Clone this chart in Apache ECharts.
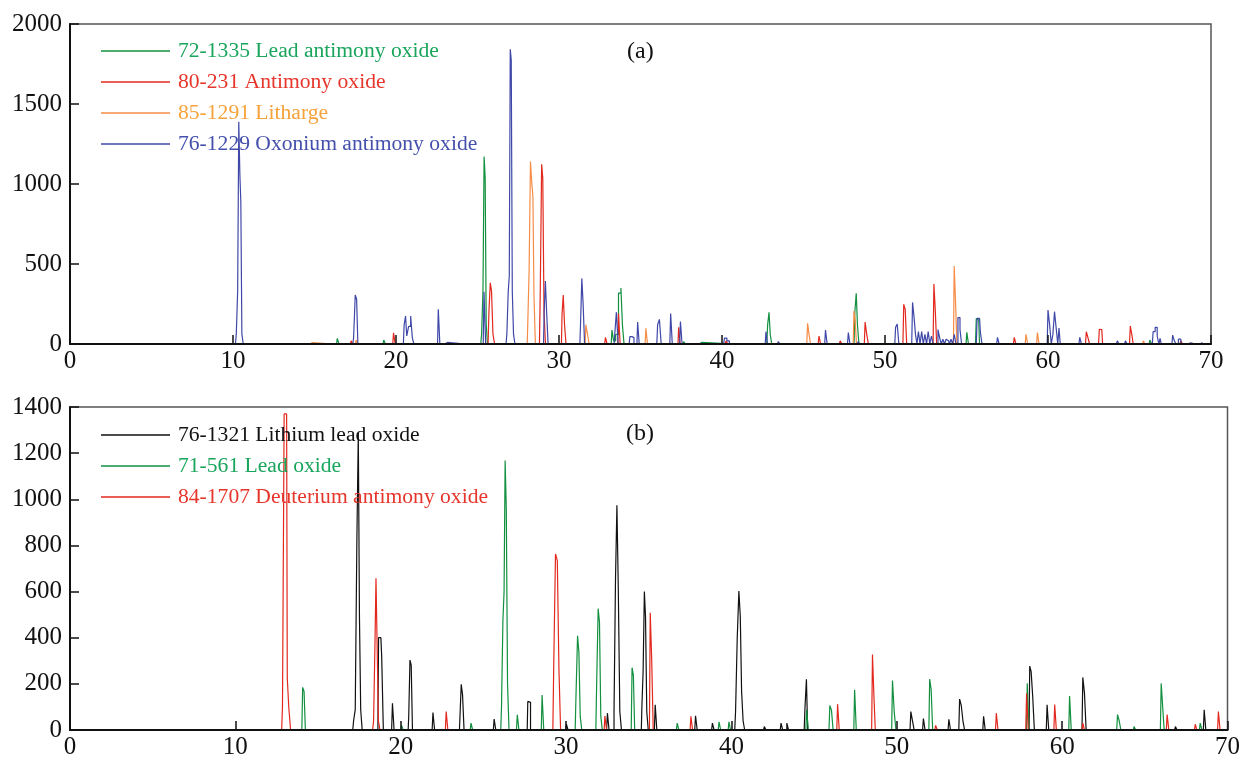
<!DOCTYPE html>
<html>
<head>
<meta charset="utf-8">
<title>XRD patterns</title>
<script src="https://cdn.jsdelivr.net/npm/echarts@6/dist/echarts.min.js"></script>
<style>
  html, body { margin: 0; padding: 0; background: #fff; }
  #chart { width: 1243px; height: 760px; }
</style>
</head>
<body>
<div id="chart"></div>
<script>
// axis ticks
const xTicks = [0, 10, 20, 30, 40, 50, 60, 70];
const yTicksA = [0, 500, 1000, 1500, 2000];
const yTicksB = [0, 200, 400, 600, 800, 1000, 1200, 1400];

// panel (a) reference patterns, [2theta, intensity]
const leadAntimonyOxide = [
  [16.35,0],[16.45,35],[16.55,0],
  [19.2,0],[19.3,25],[19.4,0],
  [25.2,0],[25.3,60],[25.37,330],[25.44,1171],[25.5,1040],[25.57,120],[25.65,0],
  [33.2,0],[33.3,87],[33.4,20],[33.55,60],[33.75,318],[33.85,350],[33.93,120],[34.05,0],
  [37.6,0],[37.7,15],[37.8,0],
  [38.6,0],[38.7,10],[38.8,0],
  [42.75,0],[42.85,120],[42.92,198],[43.0,60],[43.1,0],
  [48.1,0],[48.2,200],[48.27,317],[48.35,120],[48.45,0],
  [54.97,0],[55.07,73],[55.17,0],
  [55.55,0],[55.65,160],[55.75,150],[55.85,0],
  [66.2,0],[66.3,25],[66.4,0]
];
const antimonyOxide = [
  [17.2,0],[17.3,20],[17.4,0],
  [19.8,0],[19.9,70],[20.0,0],
  [25.65,0],[25.75,200],[25.82,383],[25.9,330],[26.0,60],[26.1,0],
  [28.8,0],[28.9,320],[28.97,1123],[29.04,1035],[29.12,200],[29.22,0],
  [30.15,0],[30.22,180],[30.3,306],[30.38,120],[30.48,0],
  [32.8,0],[32.9,42],[33.0,0],
  [33.6,0],[33.7,190],[33.8,0],
  [37.3,0],[37.38,104],[37.48,0],
  [40.2,0],[40.3,20],[40.4,0],
  [45.9,0],[46.0,50],[46.1,0],
  [47.2,0],[47.3,20],[47.4,0],
  [48.73,0],[48.83,137],[48.93,60],[49.03,0],
  [51.1,0],[51.2,248],[51.28,216],[51.38,0],
  [52.95,0],[53.05,375],[53.12,210],[53.22,0],
  [57.88,0],[57.98,42],[58.08,0],
  [62.3,0],[62.4,77],[62.5,40],[62.6,0],
  [63.1,0],[63.2,92],[63.3,90],[63.4,0],
  [65.0,0],[65.1,112],[65.18,60],[65.28,0],
  [68.1,0],[68.2,20],[68.3,0]
];
const litharge = [
  [14.7,0],[14.8,8],[14.9,0],
  [17.5,0],[17.6,25],[17.7,0],
  [28.05,0],[28.13,150],[28.2,452],[28.3,1140],[28.37,1000],[28.43,920],[28.5,300],[28.6,0],
  [31.6,0],[31.7,120],[31.8,60],[31.9,0],
  [35.28,0],[35.38,98],[35.48,0],
  [45.2,0],[45.3,129],[45.38,60],[45.48,0],
  [48.05,0],[48.14,206],[48.2,150],[48.3,0],
  [54.2,0],[54.29,487],[54.37,254],[54.45,0],
  [58.6,0],[58.7,60],[58.8,0],
  [59.3,0],[59.4,71],[59.5,0],
  [65.8,0],[65.9,20],[66.0,0]
];
const oxoniumAntimonyOxide = [
  [10.15,0],[10.25,60],[10.32,327],[10.39,1389],[10.45,1062],[10.51,890],[10.58,60],[10.68,0],
  [17.35,0],[17.45,40],[17.55,306],[17.62,280],[17.7,0],
  [20.45,0],[20.55,120],[20.62,175],[20.7,50],[20.85,110],[20.95,175],[21.05,40],[21.15,0],
  [22.55,0],[22.64,217],[22.74,0],
  [23.0,0],[23.1,10],[23.2,0],
  [25.35,0],[25.45,327],[25.55,0],
  [26.75,0],[26.85,60],[26.92,327],[26.98,427],[27.04,1842],[27.1,1775],[27.17,327],[27.25,60],[27.35,0],
  [29.05,0],[29.13,200],[29.2,394],[29.28,200],[29.38,0],
  [31.28,0],[31.36,120],[31.44,410],[31.52,250],[31.62,0],
  [33.38,0],[33.46,60],[33.58,199],[33.68,0],
  [34.3,0],[34.4,46],[34.55,40],[34.65,0],
  [34.78,0],[34.87,137],[34.97,0],
  [36.0,0],[36.1,120],[36.22,154],[36.32,0],
  [36.8,0],[36.9,191],[37.0,0],
  [37.4,0],[37.5,140],[37.6,0],
  [40.1,0],[40.2,37],[40.4,20],[40.5,0],
  [42.65,0],[42.74,77],[42.84,0],
  [43.4,0],[43.5,15],[43.6,0],
  [46.3,0],[46.4,87],[46.5,0],
  [47.7,0],[47.8,71],[47.9,0],
  [48.3,0],[48.4,15],[48.5,0],
  [50.6,0],[50.7,104],[50.8,125],[50.9,0],
  [51.64,0],[51.74,260],[51.82,171],[51.92,60],[52.0,0],[52.1,77],[52.2,0],[52.3,77],[52.4,0],[52.5,60],[52.6,0],[52.7,77],[52.8,0],[52.9,50],[53.0,0],
  [53.2,0],[53.3,90],[53.4,40],[53.5,0],[53.6,30],[53.7,0],[53.8,30],[53.9,20],[54.0,0],[54.1,30],[54.2,0],[54.3,60],[54.4,0],[54.55,165],[54.65,90],[54.75,0],
  [55.6,0],[55.7,160],[55.8,160],[55.9,75],[56.0,0],
  [56.85,0],[56.95,42],[57.05,0],
  [59.95,0],[60.05,212],[60.15,120],[60.25,0],[60.35,60],[60.45,202],[60.55,100],[60.65,0],[60.7,100],[60.8,0],
  [61.9,0],[62.0,42],[62.1,0],
  [64.2,0],[64.3,20],[64.4,0],
  [64.7,0],[64.8,20],[64.9,0],
  [66.4,0],[66.5,77],[66.65,104],[66.75,50],[66.85,0],[66.9,35],[67.0,0],
  [67.6,0],[67.7,56],[67.8,20],[67.9,0],[68.1,30],[68.2,0],
  [68.6,0],[68.7,8],[68.8,0],[69.3,0],[69.4,8],[69.5,0]
];

// panel (b) reference patterns
const lithiumLeadOxide = [
  [17.1,0],[17.2,40],[17.3,88],[17.4,834],[17.47,1287],[17.54,490],[17.62,88],[17.72,0],
  [18.62,0],[18.7,400],[18.8,400],[18.9,318],[19.0,0],
  [19.45,0],[19.55,116],[19.65,0],
  [20.45,0],[20.52,60],[20.6,303],[20.67,281],[20.75,0],
  [21.9,0],[22.0,76],[22.1,0],
  [23.55,0],[23.62,60],[23.7,198],[23.78,152],[23.88,0],
  [25.6,0],[25.7,47],[25.8,0],
  [27.65,0],[27.72,124],[27.8,120],[27.9,0],
  [29.97,0],[30.07,25],[30.17,0],
  [32.45,0],[32.55,73],[32.65,0],
  [32.85,0],[32.95,80],[33.03,658],[33.12,974],[33.2,600],[33.3,80],[33.4,0],
  [34.55,0],[34.62,100],[34.7,256],[34.77,600],[34.84,490],[34.92,80],[35.02,0],
  [35.34,0],[35.44,109],[35.54,0],
  [37.78,0],[37.88,62],[37.98,0],
  [38.8,0],[38.9,30],[39.0,0],
  [40.2,0],[40.3,80],[40.4,396],[40.5,602],[40.57,493],[40.66,168],[40.75,40],[40.85,0],
  [41.94,0],[42.04,15],[42.14,0],
  [42.95,0],[43.05,30],[43.15,0],
  [43.3,0],[43.4,30],[43.5,0],
  [44.4,0],[44.5,100],[44.57,220],[44.65,0],
  [50.8,0],[50.9,80],[51.0,40],[51.1,0],
  [51.56,0],[51.66,50],[51.76,0],
  [53.1,0],[53.2,46],[53.3,0],
  [53.75,0],[53.85,134],[53.95,106],[54.05,40],[54.15,0],
  [55.2,0],[55.3,59],[55.4,0],
  [58.0,0],[58.08,277],[58.17,253],[58.27,145],[58.37,0],
  [59.04,0],[59.14,109],[59.24,0],
  [61.2,0],[61.3,228],[61.4,159],[61.5,0],
  [66.8,0],[66.9,15],[67.0,0],
  [68.54,0],[68.64,88],[68.74,0]
];
const leadOxide = [
  [14.02,0],[14.12,185],[14.19,167],[14.28,0],
  [20.0,0],[20.1,20],[20.2,0],
  [24.2,0],[24.3,30],[24.4,0],
  [26.05,0],[26.14,100],[26.22,475],[26.28,598],[26.35,1168],[26.42,956],[26.5,200],[26.6,0],
  [27.0,0],[27.1,66],[27.2,0],
  [28.5,0],[28.6,152],[28.7,0],
  [30.55,0],[30.65,150],[30.74,408],[30.81,339],[30.9,60],[31.0,0],
  [31.8,0],[31.9,200],[31.98,526],[32.06,468],[32.14,60],[32.24,0],
  [33.94,0],[34.04,270],[34.1,238],[34.2,0],
  [36.67,0],[36.77,30],[36.87,0],
  [39.2,0],[39.3,35],[39.4,0],
  [39.8,0],[39.9,35],[40.0,0],
  [44.5,0],[44.6,88],[44.7,0],
  [45.9,0],[46.0,106],[46.1,86],[46.2,0],
  [47.4,0],[47.5,174],[47.6,0],
  [49.69,0],[49.79,214],[49.9,78],[50.0,0],
  [51.94,0],[52.04,221],[52.12,174],[52.22,0],
  [57.84,0],[57.94,202],[58.04,0],
  [60.4,0],[60.5,147],[60.6,0],
  [63.3,0],[63.4,67],[63.5,40],[63.6,0],
  [64.3,0],[64.4,15],[64.5,0],
  [65.94,0],[66.04,202],[66.12,100],[66.22,0],
  [68.3,0],[68.4,30],[68.5,0]
];
const deuteriumAntimonyOxide = [
  [12.8,0],[12.9,100],[13.0,1370],[13.1,1370],[13.18,224],[13.28,100],[13.4,0],
  [18.3,0],[18.42,40],[18.48,404],[18.53,658],[18.6,404],[18.7,40],[18.8,0],
  [22.7,0],[22.8,80],[22.9,0],
  [29.2,0],[29.3,260],[29.42,763],[29.52,734],[29.62,260],[29.72,0],
  [32.3,0],[32.4,60],[32.5,0],
  [35.04,0],[35.14,508],[35.22,300],[35.32,0],
  [37.5,0],[37.6,59],[37.7,0],
  [46.37,0],[46.47,112],[46.57,0],
  [48.48,0],[48.58,327],[48.65,152],[48.75,0],
  [52.3,0],[52.4,20],[52.5,0],
  [55.97,0],[56.07,73],[56.17,0],
  [57.8,0],[57.9,159],[58.0,0],
  [59.5,0],[59.6,110],[59.7,0],
  [61.2,0],[61.3,30],[61.4,0],
  [66.3,0],[66.4,67],[66.5,0],
  [68.0,0],[68.1,25],[68.2,0],
  [69.4,0],[69.5,80],[69.6,0]
];

const namesA = ['72-1335 Lead antimony oxide', '80-231 Antimony oxide', '85-1291 Litharge', '76-1229 Oxonium antimony oxide'];
const namesB = ['76-1321 Lithium lead oxide', '71-561 Lead oxide', '84-1707 Deuterium antimony oxide'];

const FONT = '"Liberation Serif", "DejaVu Serif", serif';

let chart = echarts.init(document.getElementById('chart'));

function xAxisOf(gridIndex) {
  return {
    type: 'value', gridIndex: gridIndex, min: xTicks[0], max: xTicks[xTicks.length - 1], interval: 10,
    z: 5,
    axisLine: { lineStyle: { color: '#111', width: 2 } },
    axisTick: { inside: true, length: 9, lineStyle: { color: '#111', width: 1.5 } },
    axisLabel: { color: '#111', fontFamily: FONT, fontSize: 25, margin: 5, formatter: v => String(v) },
    splitLine: { show: false }
  };
}
function yAxisOf(gridIndex, ticks) {
  return {
    type: 'value', gridIndex: gridIndex, min: 0, max: ticks[ticks.length - 1], interval: ticks[1] - ticks[0],
    z: 5,
    axisLine: { show: true, lineStyle: { color: '#111', width: 2 } },
    axisTick: { show: true, inside: true, length: 9, lineStyle: { color: '#111', width: 1.5 } },
    axisLabel: { color: '#111', fontFamily: FONT, fontSize: 25, margin: 8, formatter: v => String(v) },
    splitLine: { show: false }
  };
}
function pattern(name, data, color, idx) {
  return {
    name: name, type: 'line', xAxisIndex: idx, yAxisIndex: idx,
    data: data, step: 'middle', showSymbol: false, symbol: 'none',
    color: color, lineStyle: { color: color, width: 1.2 }, animation: false
  };
}
function legendOf(top, gap, names, colors) {
  return {
    orient: 'vertical', left: 101, top: top, padding: 0, selectedMode: false,
    icon: 'rect', itemWidth: 69, itemHeight: 1.5, itemGap: gap,
    textStyle: { fontFamily: FONT, fontSize: 21.6, lineHeight: 21, padding: [0, 0, 0, 3] },
    data: names.map((n, i) => ({ name: n, textStyle: { color: colors[i] } }))
  };
}

chart.setOption({
  animation: false,
  backgroundColor: '#fff',
  grid: [
    { left: 70, top: 24, width: 1141, height: 320, show: true, borderColor: '#555', borderWidth: 1.5 },
    { left: 70, top: 407, width: 1160, height: 325, show: true, borderColor: '#555', borderWidth: 1.5 }
  ],
  xAxis: [xAxisOf(0), xAxisOf(1)],
  yAxis: [yAxisOf(0, yTicksA), yAxisOf(1, yTicksB)],
  legend: [
    legendOf(40, 9, namesA, ['#1aa55c', '#e6352a', '#f6a23a', '#4450ab']),
    legendOf(424, 9, namesB, ['#111111', '#1aa55c', '#e6352a'])
  ],
  graphic: [
    { type: 'text', left: 627, top: 40, style: { text: '(a)', font: '24px ' + FONT, fill: '#111' } },
    { type: 'text', left: 626, top: 422, style: { text: '(b)', font: '24px ' + FONT, fill: '#111' } }
  ],
  series: [
    pattern(namesA[0], leadAntimonyOxide, '#12903f', 0),
    pattern(namesA[1], antimonyOxide, '#e3281d', 0),
    pattern(namesA[2], litharge, '#f68c45', 0),
    pattern(namesA[3], oxoniumAntimonyOxide, '#3f48a8', 0),
    pattern(namesB[0], lithiumLeadOxide, '#111111', 1),
    pattern(namesB[1], leadOxide, '#12903f', 1),
    pattern(namesB[2], deuteriumAntimonyOxide, '#e3281d', 1)
  ]
});
</script>
</body>
</html>
